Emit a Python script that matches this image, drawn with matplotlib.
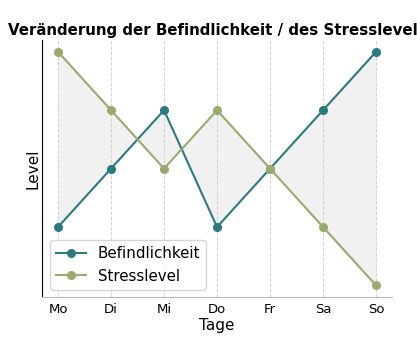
import matplotlib
matplotlib.use("Agg")
import matplotlib.pyplot as plt

tage = ["Mo", "Di", "Mi", "Do", "Fr", "Sa", "So"]
befindlichkeit = [2, 3, 4, 2, 3, 4, 5]
stresslevel = [5, 4, 3, 4, 3, 2, 1]

fig, ax = plt.subplots(figsize=(4.17, 3.58), dpi=100)
fig.subplots_adjust(left=0.101, right=0.940, top=0.888, bottom=0.170)

x = range(len(tage))
ax.fill_between(x, befindlichkeit, stresslevel, color="lightgray", alpha=0.3, linewidth=0)
ax.plot(x, befindlichkeit, marker="o", color="#2a7a80", label="Befindlichkeit", markersize=5.5)
ax.plot(x, stresslevel, marker="o", color="#9aaa6e", label="Stresslevel", markersize=5.5)

ax.set_xticks(list(x))
ax.set_xticklabels(tage, fontsize=9.5)
ax.tick_params(axis="x", length=0, pad=4)
ax.set_yticks([])
ax.grid(axis="x", linestyle="--", color="lightgray", linewidth=0.7)
ax.set_axisbelow(True)

for s in ["top", "right"]:
    ax.spines[s].set_visible(False)
ax.spines["bottom"].set_color("#bbbbbb")

ax.set_xlabel("Tage", fontsize=11, labelpad=2)
ax.set_ylabel("Level", fontsize=11, labelpad=1)
ax.set_title("Veränderung der Befindlichkeit / des Stresslevels", fontsize=10.8,
             fontweight="bold", pad=4)
ax.legend(loc="lower left", fontsize=10.8)

plt.savefig("out.png", dpi=100)
